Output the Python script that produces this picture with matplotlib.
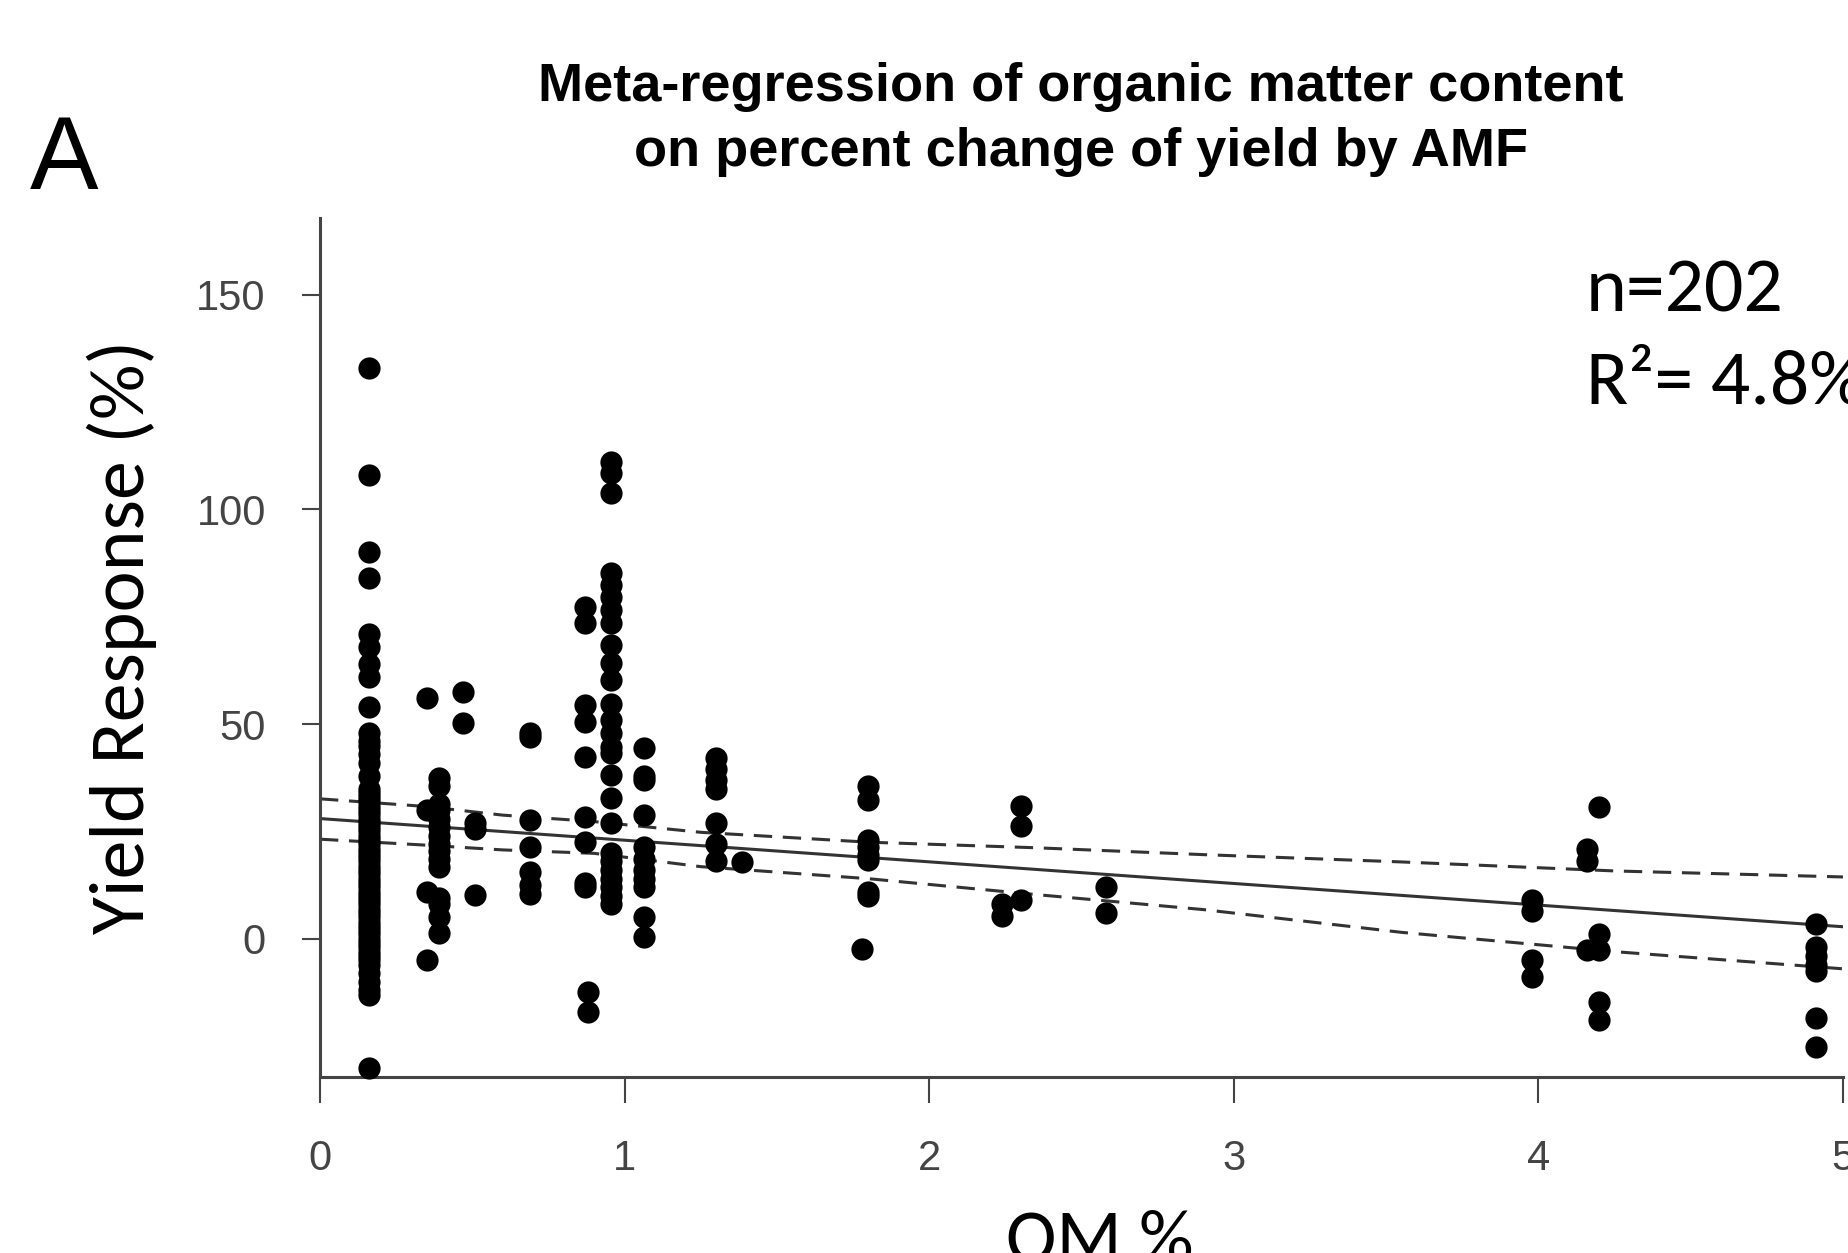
""" Meta-regression of organic matter content on yield response
"""
import matplotlib
matplotlib.use('Agg')
import matplotlib.pyplot as plt
import numpy as np

# points (OM %, yield response %)
om_pct = (
    [0.16] * 62
    + [0.35] * 4
    + [0.39] * 15
    + [0.47] * 2 + [0.51] * 3
    + [0.69] * 7
    + [0.87] * 9 + [0.88] * 2
    + [0.955] * 26
    + [1.063] * 11
    + [1.30] * 7 + [1.385]
    + [1.80] * 8 + [1.78]
    + [2.24] * 2 + [2.30] * 3
    + [2.58] * 2
    + [3.98] * 4
    + [4.16] * 3 + [4.20] * 5
    + [4.91] * 7
)
yield_resp = (
    [133, 108, 90, 84, 71, 68, 64, 61, 54, 48, 46, 45, 43, 41, 38, 35, 34, 33,
     32, 31, 30, 29, 28, 27, 26, 25, 24, 23, 22, 21, 20, 19, 18, 17, 16, 15,
     14, 13, 12, 11, 10, 9, 8, 7, 6, 5, 4, 3, 2, 1, 0, -1, -2, -3, -4, -5,
     -6, -8, -10, -12, -13, -30]
    + [56, 30, 11, -5]
    + [37.5, 35.5, 31.5, 30, 28, 26, 24, 22, 20.5, 18.5, 16.7, 9.5, 8, 5, 1.3]
    + [57.5, 50.2] + [27, 25.5, 10.2]
    + [48, 47, 27.7, 21.4, 15.6, 12.5, 10.5]
    + [77.4, 73.5, 54.4, 50.6, 42.4, 28.4, 22.5, 13, 12] + [-12.5, -17]
    + [111, 108.4, 103.8, 85.1, 82.4, 79.7, 76.6, 73.5, 68.4, 64.2, 60.3,
       54.8, 51, 47.9, 44.7, 43.2, 38.1, 32.7, 26.9, 20, 18, 16, 14, 12, 10, 8]
    + [44.4, 38, 37, 28.8, 21.4, 18.5, 16, 14, 12, 5.1, 0.5]
    + [42, 39.5, 37, 35, 27, 22, 18] + [17.8]
    + [35.5, 32.4, 23, 21.4, 19.4, 18.4, 11, 10] + [-2.4]
    + [8, 5.4] + [31, 26.2, 9]
    + [12, 6]
    + [9, 6.5, -5, -9]
    + [21, 18, -2.6] + [30.8, 1, -2.6, -14.7, -18.9]
    + [3.5, -2, -4, -6, -7.5, -18.5, -25.2]
)

# fitted line and confidence band
fit_x = [0, 5]
fit_y = [28.0, 2.8]
ci_x = [0.0, 0.35, 0.6, 0.9, 1.25, 1.8, 2.35, 2.9, 3.55, 4.25, 5.0]
ci_upper = [32.6, 30.8, 28.8, 27.3, 24.8, 22.5, 21.2, 19.6, 17.9, 15.8, 14.4]
ci_lower = [23.2, 21.8, 20.7, 19.9, 16.8, 14.0, 10.3, 6.8, 1.5, -3.0, -7.0]

x_ticks = [0, 1, 2, 3, 4, 5]
y_ticks = [0, 50, 100, 150]

W, H = 1849, 1253
label_font = ['Carlito', 'Lato', 'DejaVu Sans']
tick_font = ['Liberation Sans', 'DejaVu Sans']


def fx(px):
    return px / W


def fy(py):
    return 1 - py / H


def plot_meta_regression():
    fig = plt.figure(figsize=(W / 100, H / 100), dpi=100)
    ax = fig.add_axes([fx(320), fy(1077), (1843 - 320) / W, (1077 - 218) / H])

    ax.plot(om_pct, yield_resp, 'o', color='black', ms=16, mew=0, clip_on=False, zorder=3)
    ax.plot(fit_x, fit_y, color='#333333', lw=2.2)
    ax.plot(ci_x, ci_upper, color='#333333', lw=2.2, linestyle=(0, (6, 3.5)))
    ax.plot(ci_x, ci_lower, color='#333333', lw=2.2, linestyle=(0, (6, 3.5)))

    ax.set_xlim(0, 5)
    ax.set_ylim(-32.2, 167.9)
    ax.set_xticks(x_ticks)
    ax.set_yticks(y_ticks)
    ax.spines['top'].set_visible(False)
    ax.spines['right'].set_visible(False)
    for s in ['left', 'bottom']:
        ax.spines[s].set_linewidth(2.2)
        ax.spines[s].set_color('#444444')
    ax.tick_params(axis='x', length=19, width=1.5, pad=26, labelsize=30,
                   colors='#444444')
    ax.tick_params(axis='y', length=13, width=1.5, pad=26, labelsize=30,
                   colors='#444444')
    for lab in ax.get_xticklabels() + ax.get_yticklabels():
        lab.set_family(tick_font)

    # title and annotations
    fig.text(fx(1081), fy(101), 'Meta-regression of organic matter content',
             ha='center', va='baseline', fontsize=39, weight='bold', family=tick_font)
    fig.text(fx(1081), fy(166), 'on percent change of yield by AMF',
             ha='center', va='baseline', fontsize=39, weight='bold', family=tick_font)
    fig.text(fx(30), fy(189), 'A', ha='left', va='baseline', fontsize=74, family=tick_font)
    fig.text(fx(1586), fy(312), 'n=202', ha='left', va='baseline', fontsize=56, family=label_font)
    fig.text(fx(1586), fy(403), 'R\u00b2= 4.8%', ha='left', va='baseline', fontsize=56,
             family=label_font)
    fig.text(fx(122), fy(637), 'Yield Response (%)', rotation=90, ha='center', va='center',
             fontsize=56, family=label_font)
    fig.text(fx(1100), fy(1208), 'OM %', ha='center', va='top', fontsize=55,
             family=label_font)

    fig.savefig('out.png', dpi=100)
    plt.close(fig)


if __name__ == "__main__":
    plot_meta_regression()
